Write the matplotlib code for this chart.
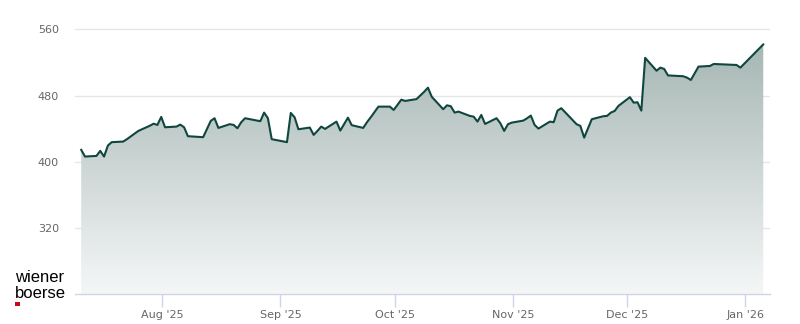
import numpy as np
import pandas as pd
import matplotlib
matplotlib.use("Agg")
import matplotlib.pyplot as plt
import matplotlib.dates as mdates
from matplotlib.colors import LinearSegmentedColormap
from matplotlib.patches import Rectangle

# closing prices (only the visible vertices)
dates = [
    "2025-07-10", "2025-07-11", "2025-07-14", "2025-07-15", "2025-07-16", "2025-07-17",
    "2025-07-18", "2025-07-21", "2025-07-22", "2025-07-25", "2025-07-28", "2025-07-29",
    "2025-07-30", "2025-07-31", "2025-08-01", "2025-08-04", "2025-08-05", "2025-08-06",
    "2025-08-07", "2025-08-11", "2025-08-13", "2025-08-14", "2025-08-15", "2025-08-18",
    "2025-08-19", "2025-08-20", "2025-08-21", "2025-08-22", "2025-08-26", "2025-08-27",
    "2025-08-28", "2025-08-29", "2025-09-02", "2025-09-03", "2025-09-04", "2025-09-05",
    "2025-09-08", "2025-09-09", "2025-09-10", "2025-09-11", "2025-09-12", "2025-09-15",
    "2025-09-16", "2025-09-18", "2025-09-19", "2025-09-22", "2025-09-23", "2025-09-24",
    "2025-09-26", "2025-09-29", "2025-09-30", "2025-10-01", "2025-10-02", "2025-10-03",
    "2025-10-06", "2025-10-08", "2025-10-09", "2025-10-10", "2025-10-13", "2025-10-14",
    "2025-10-15", "2025-10-16", "2025-10-17", "2025-10-20", "2025-10-21", "2025-10-22",
    "2025-10-23", "2025-10-24", "2025-10-27", "2025-10-28", "2025-10-29", "2025-10-30",
    "2025-10-31", "2025-11-03", "2025-11-04", "2025-11-05", "2025-11-06", "2025-11-07",
    "2025-11-10", "2025-11-11", "2025-11-12", "2025-11-13", "2025-11-17", "2025-11-18",
    "2025-11-19", "2025-11-21", "2025-11-24", "2025-11-25", "2025-11-26", "2025-11-27",
    "2025-11-28", "2025-12-01", "2025-12-02", "2025-12-03", "2025-12-04", "2025-12-05",
    "2025-12-08", "2025-12-09", "2025-12-10", "2025-12-11", "2025-12-15", "2025-12-16",
    "2025-12-17", "2025-12-19", "2025-12-22", "2025-12-23", "2025-12-29", "2025-12-30",
    "2026-01-05",
]
prices = [
    414.4, 406.3, 407.1, 413.2, 406.3, 419.6,
    423.7, 424.4, 427.3, 437.3, 443.5, 446.0,
    444.5, 454.2, 441.7, 442.5, 444.9, 441.7,
    430.9, 429.7, 449.4, 452.6, 440.9, 445.4,
    444.5, 440.5, 447.8, 452.6, 449.0, 459.4,
    452.6, 427.3, 423.7, 459.0, 453.8, 439.3,
    441.3, 432.5, 437.3, 442.5, 439.7, 448.5,
    437.7, 453.3, 444.2, 440.9, 447.8, 453.8,
    466.6, 466.6, 462.6, 468.7, 475.0, 473.5,
    475.7, 484.5, 489.5, 478.5, 463.5, 468.2,
    467.1, 459.4, 460.6, 455.4, 454.5, 448.5,
    456.6, 445.7, 452.6, 446.6, 437.3, 445.4,
    447.3, 449.7, 452.5, 455.8, 444.5, 440.1,
    448.5, 447.8, 461.8, 464.7, 445.4, 443.3,
    429.2, 451.4, 455.0, 455.4, 459.4, 461.4,
    467.5, 478.0, 471.4, 471.9, 461.8, 525.5,
    510.0, 513.7, 512.1, 504.3, 503.3, 501.6,
    498.8, 514.9, 515.7, 518.1, 516.9, 513.7,
    541.7,
]

y_ticks = [320, 400, 480, 560]
x_ticks = ["2025-08-01", "2025-09-01", "2025-10-01", "2025-11-01", "2025-12-01", "2026-01-01"]
x_labels = ["Aug '25", "Sep '25", "Oct '25", "Nov '25", "Dec '25", "Jan '26"]

# closing time stamps (end of trading day)
t = pd.to_datetime(dates) + pd.Timedelta(hours=17.5)
x = mdates.date2num(t)
y = np.array(prices)

ymin, ymax = 240, 570
x0 = mdates.date2num(pd.Timestamp("2025-08-01") - pd.Timedelta(days=22.9))
x1 = mdates.date2num(pd.Timestamp("2025-08-01") + pd.Timedelta(days=159.5))

fig = plt.figure(figsize=(8, 3.24), dpi=100)
ax = fig.add_axes([75 / 800, 29.7 / 324, 695 / 800, 273.3 / 324])
ax.set_xlim(x0, x1)
ax.set_ylim(ymin, ymax)

# gradient area under the line
poly = ax.fill_between(x, y, ymin, color="none", lw=0)
cmap = LinearSegmentedColormap.from_list("area", ["#f5f7f7", "#a6b7b4"])
grad = np.linspace(0, 1, 256).reshape(-1, 1)
im = ax.imshow(grad, cmap=cmap, origin="lower", aspect="auto",
               extent=(x[0], x[-1], ymin, y.max()), zorder=1)
im.set_clip_path(poly.get_paths()[0], transform=ax.transData)

ax.plot(x, y, color="#10463f", lw=1.5, zorder=3, solid_joinstyle="round")

# grid + axes styling
ax.set_yticks(y_ticks)
ax.yaxis.grid(True, color="#e6e6e6", lw=1)
ax.set_axisbelow(True)
ax.tick_params(axis="y", length=0, pad=11.5, labelsize=8, labelcolor="#666666")
ax.set_xticks(mdates.date2num(pd.to_datetime(x_ticks)))
ax.set_xticklabels(x_labels)
ax.tick_params(axis="x", length=9, width=1, color="#ccd6eb", labelsize=8,
               labelcolor="#666666", pad=2)
for s in ["top", "right", "left"]:
    ax.spines[s].set_visible(False)
ax.spines["bottom"].set_color("#ccd6eb")
ax.spines["bottom"].set_linewidth(1)

# logo
fig.text(15 / 800, 1 - 282 / 324, "wiener", fontsize=12, color="black",
         family="Liberation Sans", va="baseline")
fig.text(15 / 800, 1 - 298 / 324, "boerse", fontsize=12, color="black",
         family="Liberation Sans", va="baseline")
fig.patches.append(Rectangle((15 / 800, 1 - 306 / 324), 4.5 / 800, 4.5 / 324,
                             transform=fig.transFigure, color="#d0021b", lw=0))

fig.savefig("out.png", dpi=100)
